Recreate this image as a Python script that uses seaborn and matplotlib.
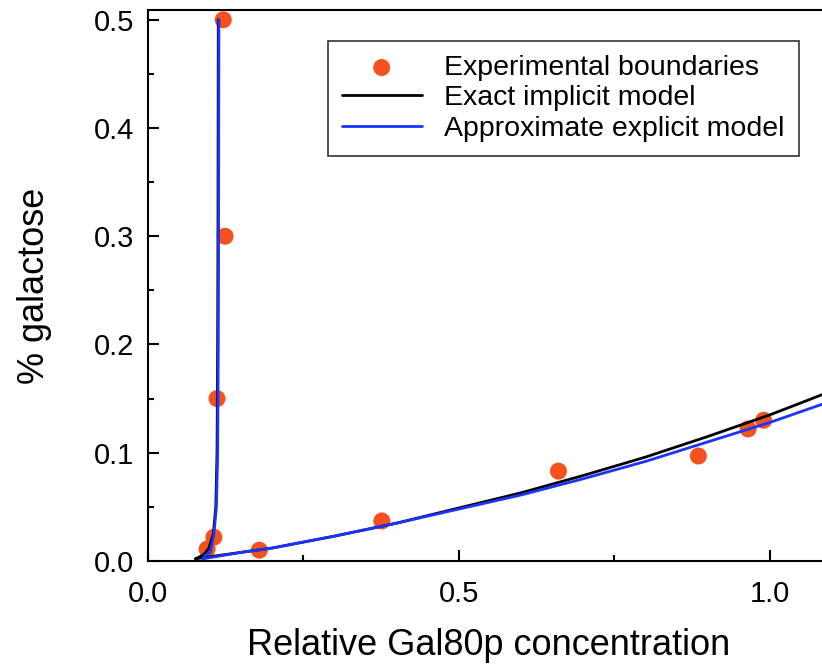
import matplotlib
matplotlib.use("Agg")
import matplotlib.pyplot as plt
import seaborn as sns
import numpy as np
from matplotlib.ticker import MultipleLocator

sns.set_style("ticks")
plt.rcParams['font.family'] = ['Liberation Sans', 'DejaVu Sans']
plt.rcParams.update({'text.color': 'black', 'axes.labelcolor': 'black',
                     'xtick.color': 'black', 'ytick.color': 'black',
                     'axes.edgecolor': 'black'})

exp_x = [0.095, 0.106, 0.111, 0.121, 0.124, 0.179, 0.376, 0.660, 0.885, 0.965, 0.990]
exp_y = [0.011, 0.022, 0.150, 0.500, 0.300, 0.010, 0.037, 0.083, 0.097, 0.122, 0.130]

exact_x = [0.113, 0.1125, 0.112, 0.111, 0.109, 0.105, 0.098, 0.090, 0.080, 0.076,
           0.10, 0.15, 0.2, 0.3, 0.4, 0.5, 0.6, 0.7, 0.8, 0.9, 1.0, 1.09]
exact_y = [0.500, 0.300, 0.200, 0.100, 0.050, 0.025, 0.012, 0.006, 0.003, 0.002,
           0.004, 0.008, 0.012, 0.023, 0.035, 0.049, 0.063, 0.079, 0.096, 0.115, 0.135, 0.155]
approx_x = [0.114, 0.1135, 0.113, 0.112, 0.110, 0.106, 0.100, 0.093, 0.088,
            0.10, 0.15, 0.2, 0.3, 0.4, 0.5, 0.6, 0.7, 0.8, 0.9, 1.0, 1.09]
approx_y = [0.500, 0.300, 0.200, 0.100, 0.050, 0.025, 0.012, 0.006, 0.002,
            0.004, 0.008, 0.012, 0.023, 0.035, 0.048, 0.061, 0.076, 0.092, 0.110, 0.128, 0.146]

fig = plt.figure(figsize=(8.22, 6.70), dpi=100)
ax = fig.add_axes([148/822, 1-561/670, (822-148)/822 + 0.01, (561-10)/670])
sns.scatterplot(x=exp_x, y=exp_y, ax=ax, color="#f4511e", s=150, edgecolor="none",
                label="Experimental boundaries", zorder=3)
sns.lineplot(x=exact_x, y=exact_y, ax=ax, sort=False, color="black", lw=2,
             label="Exact implicit model", zorder=4)
sns.lineplot(x=approx_x, y=approx_y, ax=ax, sort=False, color="#1a33ff", lw=2,
             label="Approximate explicit model", zorder=5)
ax.set_xlim(0, 1.097)
ax.set_ylim(0, 0.509)
ax.xaxis.set_major_locator(MultipleLocator(0.5))
ax.xaxis.set_minor_locator(MultipleLocator(0.25))
ax.yaxis.set_major_locator(MultipleLocator(0.1))
ax.yaxis.set_minor_locator(MultipleLocator(0.05))
ax.tick_params(direction="in", which="both", labelsize=21, width=1.5)
ax.tick_params(axis="x", pad=14)
ax.tick_params(axis="y", pad=10)
ax.tick_params(which="major", length=8)
ax.tick_params(which="minor", length=4)
ax.xaxis.set_major_formatter(matplotlib.ticker.FormatStrFormatter('%.1f'))
ax.yaxis.set_major_formatter(matplotlib.ticker.FormatStrFormatter('%.1f'))
for s in ax.spines.values():
    s.set_linewidth(1.5)
ax.set_xlabel("Relative Gal80p concentration", fontsize=26, labelpad=14)
ax.set_ylabel("% galactose", fontsize=26, labelpad=30)
leg = ax.legend(loc="upper right", bbox_to_anchor=(0.975, 0.97), fontsize=20.5,
                frameon=True, fancybox=False, edgecolor="black", borderpad=0.5,
                handlelength=2.8, labelspacing=0.15)
leg.get_frame().set_linewidth(1.2)
fig.savefig("out.png", dpi=100)
